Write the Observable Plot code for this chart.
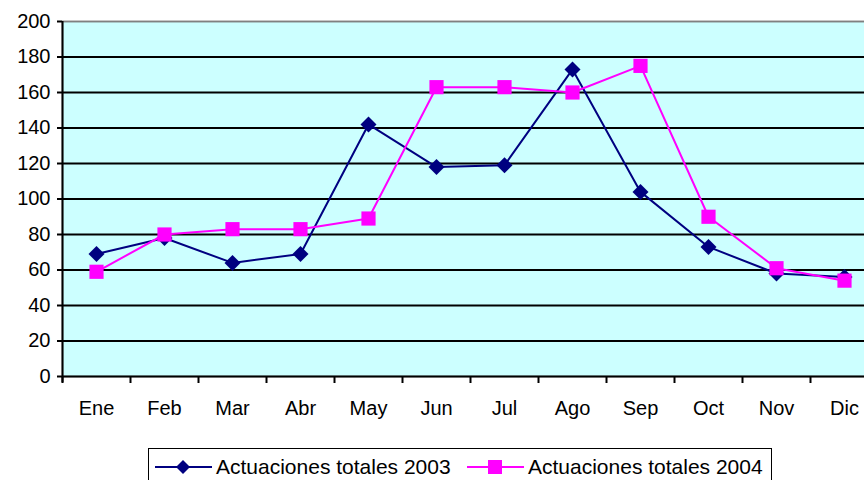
<!DOCTYPE html>
<html>
<head>
<meta charset="utf-8">
<script src="https://cdn.jsdelivr.net/npm/d3@7"></script>
<script src="https://cdn.jsdelivr.net/npm/@observablehq/plot@0.6"></script>
<style>
  html, body { margin: 0; padding: 0; background: #fff; overflow: hidden; }
  #wrap { width: 864px; overflow: hidden; font-family: "Liberation Sans", Arial, sans-serif; }
  #chart svg { max-width: none !important; display: block; }
  #legend {
    position: relative; margin-left: 148px; width: 622px; height: 40px;
    border: 1px solid #000; box-sizing: content-box; font-size: 21px; color: #000;
  }
  .item { position: absolute; top: 6px; display: flex; align-items: center; white-space: nowrap; }
  .item svg { margin-right: 4px; }
</style>
</head>
<body>
<div id="wrap">
  <div id="chart"></div>
  <div id="legend"></div>
</div>
<script>
const months = ["Ene","Feb","Mar","Abr","May","Jun","Jul","Ago","Sep","Oct","Nov","Dic"];
const values2003 = [69, 78, 64, 69, 142, 118, 119, 173, 104, 73, 58, 56];
const values2004 = [59, 80, 83, 83, 89, 163, 163, 160, 175, 90, 61, 54];
const yTicks = [0, 20, 40, 60, 80, 100, 120, 140, 160, 180, 200];
const seriesNames = ["Actuaciones totales 2003", "Actuaciones totales 2004"];
const colors = ["#000080", "#ff00ff"];

const d03 = months.map((m, i) => ({i: i + 0.5, month: m, value: values2003[i]}));
const d04 = months.map((m, i) => ({i: i + 0.5, month: m, value: values2004[i]}));
const boundaries = d3.range(0, months.length + 1);
const centers = months.map((m, i) => i + 0.5);

const chart = Plot.plot({
  width: 880,
  height: 448,
  marginLeft: 62,
  marginRight: 2,
  marginTop: 21,
  marginBottom: 72,
  style: {fontFamily: "Liberation Sans, Arial, sans-serif", color: "#000", background: "transparent", maxWidth: "none"},
  x: {type: "linear", domain: [0, 12], label: null},
  y: {domain: [0, 200], label: null},
  marks: [
    Plot.frame({fill: "#ccffff", stroke: "#808080", strokeWidth: 1.5}),
    Plot.ruleY(yTicks.filter(v => v > 0 && v < 200), {stroke: "#000", strokeWidth: 2}),
    Plot.ruleY([200], {stroke: "#808080", strokeWidth: 1.5}),
    Plot.axisY({ticks: yTicks, tickSize: 5, tickPadding: 7, fontSize: 20, stroke: "#000", strokeWidth: 2, label: null}),
    Plot.axisX({ticks: boundaries, tickSize: 7, tickFormat: () => "", stroke: "#000", strokeWidth: 2, label: null}),
    Plot.axisX({ticks: centers, tickSize: 0, tickPadding: 24, fontSize: 20, tickFormat: d => months[Math.floor(d)], label: null}),
    Plot.ruleX([0], {y1: -3.5, y2: 200, stroke: "#000", strokeWidth: 2, clip: false}),
    Plot.ruleY([0], {stroke: "#000", strokeWidth: 2}),
    Plot.lineY(d03, {x: "i", y: "value", stroke: colors[0], strokeWidth: 2}),
    Plot.dot(d03, {x: "i", y: "value", symbol: "diamond2", r: 7.2, fill: colors[0], stroke: null}),
    Plot.lineY(d04, {x: "i", y: "value", stroke: colors[1], strokeWidth: 2}),
    Plot.dot(d04, {x: "i", y: "value", symbol: "square", r: 8, fill: colors[1], stroke: null})
  ]
});
document.getElementById("chart").appendChild(chart);

// Legend
const legend = document.getElementById("legend");
const itemLeft = [6, 318];
seriesNames.forEach((name, k) => {
  const item = document.createElement("div");
  item.className = "item";
  item.style.left = itemLeft[k] + "px";
  const marker = k === 0
    ? `<path d="M28,3 L35,10 L28,17 L21,10 Z" fill="${colors[0]}"/>`
    : `<rect x="21" y="3" width="14" height="14" fill="${colors[1]}"/>`;
  item.innerHTML = `<svg width="57" height="20"><line x1="0" y1="10" x2="57" y2="10" stroke="${colors[k]}" stroke-width="2"/>${marker}</svg><span>${name}</span>`;
  legend.appendChild(item);
});
</script>
</body>
</html>
